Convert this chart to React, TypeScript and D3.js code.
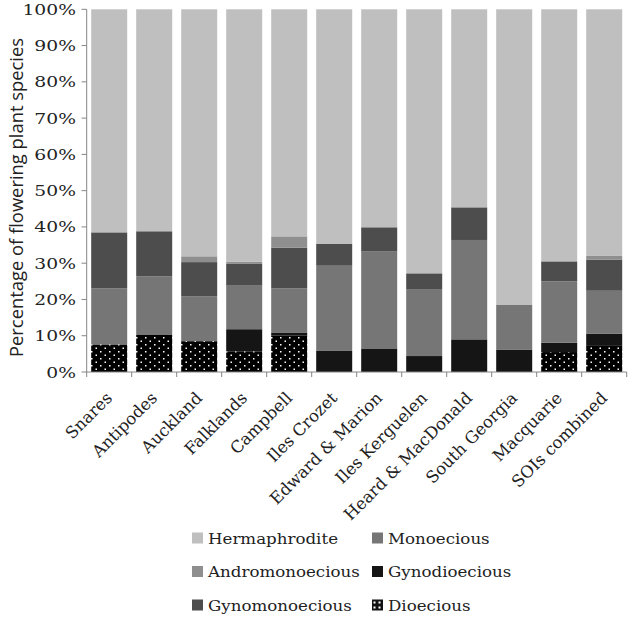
import { useEffect, useRef } from 'react'
import * as d3 from 'd3'

const CATEGORIES = [
  'Snares',
  'Antipodes',
  'Auckland',
  'Falklands',
  'Campbell',
  'Iles Crozet',
  'Edward & Marion',
  'Iles Kerguelen',
  'Heard & MacDonald',
  'South Georgia',
  'Macquarie',
  'SOIs combined',
]

// stacked bottom to top
const DIOECIOUS = [7.6, 10.2, 8.5, 5.7, 10.0, 0, 0, 0, 0, 0, 5.5, 7.2]
const GYNODIOECIOUS = [0, 0, 0, 6.1, 0.9, 5.8, 6.5, 4.4, 9.0, 6.2, 2.6, 3.4]
const MONOECIOUS = [15.5, 16.2, 12.4, 12.0, 12.2, 23.5, 26.7, 18.3, 27.4, 12.4, 16.9, 11.8]
const GYNOMONOECIOUS = [15.4, 12.4, 9.4, 6.0, 11.2, 6.0, 6.7, 4.5, 9.0, 0, 5.5, 8.6]
const ANDROMONOECIOUS = [0, 0, 1.6, 0.6, 3.1, 0, 0, 0, 0, 0, 0, 1.0]
const HERMAPHRODITE = [61.5, 61.2, 68.1, 69.6, 62.6, 64.7, 60.1, 72.8, 54.6, 81.4, 69.5, 68.0]

const Y_TICKS = [0, 10, 20, 30, 40, 50, 60, 70, 80, 90, 100]

// legend reads row by row, two columns
const LEGEND_ORDER = [
  'Hermaphrodite',
  'Monoecious',
  'Andromonoecious',
  'Gynodioecious',
  'Gynomonoecious',
  'Dioecious',
]

const SERIES: { key: string; values: number[]; fill: string }[] = [
  { key: 'Dioecious', values: DIOECIOUS, fill: 'url(#dots)' },
  { key: 'Gynodioecious', values: GYNODIOECIOUS, fill: '#151515' },
  { key: 'Monoecious', values: MONOECIOUS, fill: '#767676' },
  { key: 'Gynomonoecious', values: GYNOMONOECIOUS, fill: '#4d4d4d' },
  { key: 'Andromonoecious', values: ANDROMONOECIOUS, fill: '#8f8f8f' },
  { key: 'Hermaphrodite', values: HERMAPHRODITE, fill: '#bfbfbf' },
]

const WIDTH = 633
const HEIGHT = 618
const SERIF = '"DejaVu Serif", serif'

export default function App() {
  const svgRef = useRef<SVGSVGElement | null>(null)

  useEffect(() => {
    if (!svgRef.current) {
      return
    }

    const svg = d3.select(svgRef.current)
    svg.selectAll('*').remove()

    const defs = svg.append('defs')
    const pattern = defs
      .append('pattern')
      .attr('id', 'dots')
      .attr('patternUnits', 'userSpaceOnUse')
      .attr('width', 9)
      .attr('height', 7)
    pattern.append('rect').attr('width', 9).attr('height', 7).attr('fill', '#000')
    pattern.append('rect').attr('x', 1).attr('y', 1).attr('width', 1.5).attr('height', 1.5).attr('fill', '#fff')
    pattern.append('rect').attr('x', 5.5).attr('y', 4.5).attr('width', 1.5).attr('height', 1.5).attr('fill', '#fff')

    const legendPattern = defs
      .append('pattern')
      .attr('id', 'dots-legend')
      .attr('patternUnits', 'userSpaceOnUse')
      .attr('width', 5)
      .attr('height', 5)
    legendPattern.append('rect').attr('width', 5).attr('height', 5).attr('fill', '#111')
    legendPattern.append('rect').attr('x', 1.5).attr('y', 1.5).attr('width', 2).attr('height', 2).attr('fill', '#fff')

    const x0 = 86.7
    const x1 = 626.7
    const x = d3.scaleBand<string>().domain(CATEGORIES).range([x0, x1]).paddingInner(0.2).paddingOuter(0.1)
    const y = d3.scaleLinear().domain([0, 100]).range([372, 9.3])

    const table = CATEGORIES.map((category, i) => {
      const row: Record<string, number | string> = { category }
      SERIES.forEach((s) => {
        row[s.key] = s.values[i]
      })
      return row
    })

    const stacked = d3.stack<Record<string, number | string>>().keys(SERIES.map((s) => s.key))(table)
    const fillOf = new Map(SERIES.map((s) => [s.key, s.fill]))

    const layers = svg
      .append('g')
      .selectAll('g.layer')
      .data(stacked)
      .enter()
      .append('g')
      .attr('class', 'layer')
      .attr('fill', (d) => fillOf.get(d.key) ?? '#000')

    layers
      .selectAll('rect')
      .data((d) => d)
      .enter()
      .append('rect')
      .attr('x', (d) => x(d.data.category as string) ?? 0)
      .attr('width', x.bandwidth())
      .attr('y', (d) => y(d[1]))
      .attr('height', (d) => Math.max(0, y(d[0]) - y(d[1])))

    // y axis
    const axisColor = '#868686'
    svg
      .append('line')
      .attr('x1', x0)
      .attr('x2', x0)
      .attr('y1', y(100))
      .attr('y2', y(0))
      .attr('stroke', axisColor)

    svg
      .append('g')
      .selectAll('line')
      .data(Y_TICKS)
      .enter()
      .append('line')
      .attr('x1', 81.5)
      .attr('x2', x0)
      .attr('y1', (d) => y(d))
      .attr('y2', (d) => y(d))
      .attr('stroke', axisColor)

    // lettering in the original is wide, so stretch it sideways a bit
    svg
      .append('g')
      .selectAll('text')
      .data(Y_TICKS)
      .enter()
      .append('text')
      .attr('transform', (d) => `translate(76, ${y(d) + 5.5}) scale(1.25, 1)`)
      .attr('text-anchor', 'end')
      .attr('font-family', SERIF)
      .attr('font-size', 15)
      .attr('fill', '#222')
      .text((d) => `${d}%`)

    // x axis
    svg
      .append('line')
      .attr('x1', x0)
      .attr('x2', x1)
      .attr('y1', y(0))
      .attr('y2', y(0))
      .attr('stroke', axisColor)

    const step = x.step()
    svg
      .append('g')
      .selectAll('line')
      .data(d3.range(CATEGORIES.length + 1))
      .enter()
      .append('line')
      .attr('x1', (i) => x0 + i * step)
      .attr('x2', (i) => x0 + i * step)
      .attr('y1', y(0))
      .attr('y2', y(0) + 5)
      .attr('stroke', axisColor)

    svg
      .append('g')
      .selectAll('text')
      .data(CATEGORIES)
      .enter()
      .append('text')
      .attr('transform', (d) => {
        const cx = (x(d) ?? 0) + x.bandwidth() / 2 + 4
        return `translate(${cx}, ${y(0) + 27}) rotate(-45)`
      })
      .attr('text-anchor', 'end')
      .attr('font-family', SERIF)
      .attr('font-size', 16.5)
      .attr('fill', '#222')
      .text((d) => d)

    // y title
    svg
      .append('text')
      .attr('transform', `translate(23, 197.5) rotate(-90)`)
      .attr('text-anchor', 'middle')
      .attr('font-family', '"Open Sans", sans-serif')
      .attr('font-size', 17.5)
      .attr('textLength', 319)
      .attr('lengthAdjust', 'spacingAndGlyphs')
      .attr('fill', '#222')
      .text('Percentage of flowering plant species')

    // legend
    const legend = svg
      .append('g')
      .selectAll('g')
      .data(LEGEND_ORDER)
      .enter()
      .append('g')
      .attr('transform', (_, i) => `translate(${i % 2 === 0 ? 192 : 372}, ${538 + Math.floor(i / 2) * 33.5})`)

    legend
      .append('rect')
      .attr('x', 0)
      .attr('y', -5.5)
      .attr('width', 11)
      .attr('height', 11)
      .attr('fill', (d) => (d === 'Dioecious' ? 'url(#dots-legend)' : fillOf.get(d) ?? '#000'))

    legend
      .append('text')
      .attr('transform', 'translate(16, 5.5) scale(1.15, 1)')
      .attr('font-family', SERIF)
      .attr('font-size', 14.5)
      .attr('fill', '#222')
      .text((d) => d)
  }, [])

  return (
    <svg
      ref={svgRef}
      width={WIDTH}
      height={HEIGHT}
      style={{ position: 'absolute', left: 0, top: 0, background: '#fff' }}
      role="img"
      aria-label="Stacked percentage bars of flowering plant breeding systems by island"
    />
  )
}
